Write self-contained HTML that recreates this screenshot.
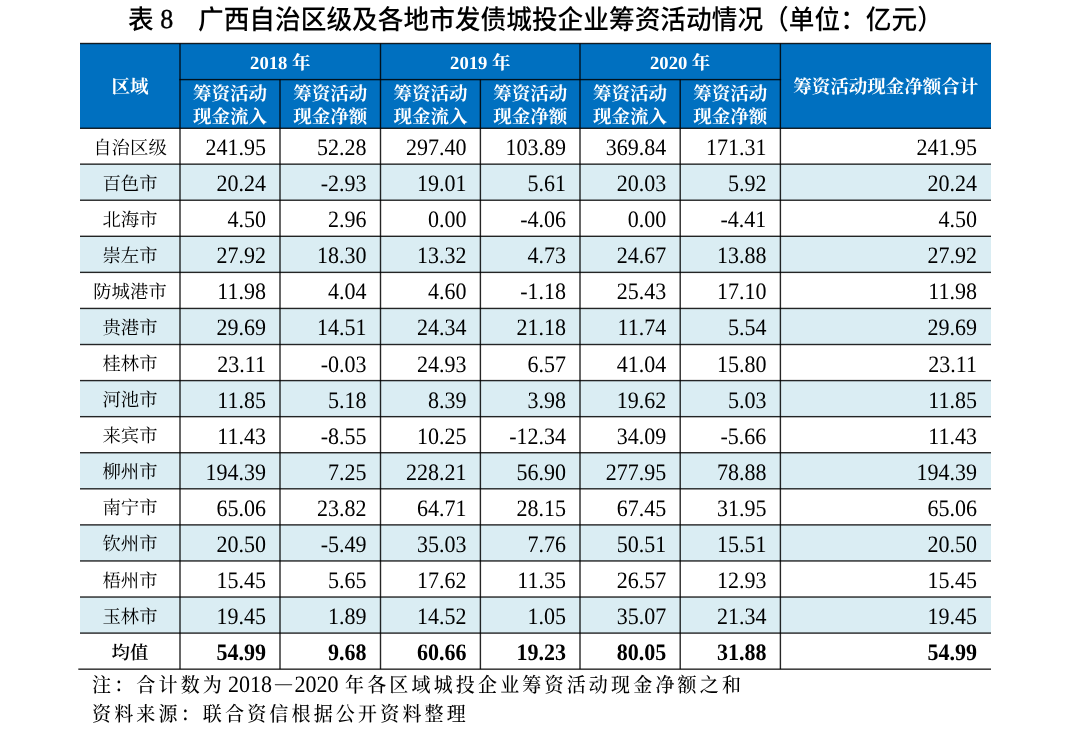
<!DOCTYPE html>
<html><head><meta charset="utf-8"><style>
html,body{text-rendering:geometricPrecision;margin:0;padding:0;background:#fff;width:1080px;height:730px;overflow:hidden;position:relative}
div{position:absolute;box-sizing:border-box}
.title{top:2px;transform:scaleY(1.05);transform-origin:0 0;height:36px;line-height:36px;font-family:"Liberation Sans","Noto Sans CJK SC",sans-serif;font-size:25.7px;font-weight:500;color:#000;white-space:nowrap}
.title .s{font-family:"Liberation Serif","Noto Serif CJK SC",serif}
.th{display:flex;align-items:center;justify-content:center;color:#fff;font-family:"Liberation Serif","Noto Serif CJK SC",serif;font-weight:700;font-size:18.5px;white-space:nowrap}
.th2{display:flex;align-items:center;justify-content:center;text-align:center;color:#fff;font-family:"Liberation Serif","Noto Serif CJK SC",serif;font-weight:700;font-size:18.5px;line-height:23.3px;white-space:nowrap}
.tn{font-family:"Liberation Serif",serif;font-size:18.6px}
.rn{display:flex;align-items:center;justify-content:center;font-family:"Liberation Serif","Noto Serif CJK SC",serif;font-size:18.4px;color:#000;padding-top:1px}
.num{display:flex;align-items:center;justify-content:flex-end;font-family:"Liberation Serif",serif;font-size:22px;color:#000;padding-top:1.8px;transform:scaleY(1.07)}
.b{font-weight:600}
.note{font-family:"Noto Serif CJK SC",serif;font-size:19px;line-height:24px;color:#000;white-space:nowrap;letter-spacing:3.17px;font-weight:500;transform:scaleY(1.07);transform-origin:0 50%}
.nn{font-family:"Liberation Serif",serif;font-size:22px;line-height:24px;color:#000;white-space:nowrap;transform:scaleY(1.07)}
#wrap{left:0;top:0;width:1080px;height:730px;will-change:transform}
</style></head><body><div id="wrap">
<svg width="1080" height="730" viewBox="0 0 1080 730" style="position:absolute;left:0;top:0"><rect x="80" y="43.5" width="911" height="84.80" fill="#0070C0"/><rect x="80" y="164.15" width="911" height="36.07" fill="#DAEDF3"/><rect x="80" y="236.30" width="911" height="36.07" fill="#DAEDF3"/><rect x="80" y="308.44" width="911" height="36.07" fill="#DAEDF3"/><rect x="80" y="380.59" width="911" height="36.07" fill="#DAEDF3"/><rect x="80" y="452.73" width="911" height="36.07" fill="#DAEDF3"/><rect x="80" y="524.88" width="911" height="36.07" fill="#DAEDF3"/><rect x="80" y="597.03" width="911" height="36.07" fill="#DAEDF3"/><rect x="80" y="42.80" width="911.00" height="1.4" fill-opacity="0.85"/><rect x="179.3" y="78.90" width="601.80" height="1.4" fill-opacity="0.85"/><rect x="80" y="127.60" width="911.00" height="1.4" fill-opacity="0.85"/><rect x="80" y="163.45" width="911.00" height="1.4" fill-opacity="0.85"/><rect x="80" y="199.52" width="911.00" height="1.4" fill-opacity="0.85"/><rect x="80" y="235.60" width="911.00" height="1.4" fill-opacity="0.85"/><rect x="80" y="271.67" width="911.00" height="1.4" fill-opacity="0.85"/><rect x="80" y="307.74" width="911.00" height="1.4" fill-opacity="0.85"/><rect x="80" y="343.81" width="911.00" height="1.4" fill-opacity="0.85"/><rect x="80" y="379.89" width="911.00" height="1.4" fill-opacity="0.85"/><rect x="80" y="415.96" width="911.00" height="1.4" fill-opacity="0.85"/><rect x="80" y="452.03" width="911.00" height="1.4" fill-opacity="0.85"/><rect x="80" y="488.11" width="911.00" height="1.4" fill-opacity="0.85"/><rect x="80" y="524.18" width="911.00" height="1.4" fill-opacity="0.85"/><rect x="80" y="560.25" width="911.00" height="1.4" fill-opacity="0.85"/><rect x="80" y="596.33" width="911.00" height="1.4" fill-opacity="0.85"/><rect x="80" y="632.40" width="911.00" height="1.4" fill-opacity="0.85"/><rect x="78.3" y="668.47" width="912.70" height="1.4" fill-opacity="0.85"/><rect x="179.30" y="43.50" width="1.4" height="625.67" fill-opacity="0.85"/><rect x="379.80" y="43.50" width="1.4" height="625.67" fill-opacity="0.85"/><rect x="579.30" y="43.50" width="1.4" height="625.67" fill-opacity="0.85"/><rect x="779.70" y="43.50" width="1.4" height="625.67" fill-opacity="0.85"/><rect x="279.30" y="79.60" width="1.4" height="589.57" fill-opacity="0.85"/><rect x="479.70" y="79.60" width="1.4" height="589.57" fill-opacity="0.85"/><rect x="679.50" y="79.60" width="1.4" height="589.57" fill-opacity="0.85"/></svg>
<div class="th" style="left:80px;top:43px;width:100px;height:85.3px">区域</div>
<div class="th" style="left:180px;top:44px;width:200.5px;height:36.6px"><span><span class="tn">2018</span> 年</span></div>
<div class="th2" style="left:180px;top:82.6px;width:100px;height:48.7px">筹资活动<br>现金流入</div>
<div class="th2" style="left:280px;top:82.6px;width:100.5px;height:48.7px">筹资活动<br>现金净额</div>
<div class="th" style="left:380.5px;top:44px;width:199.5px;height:36.6px"><span><span class="tn">2019</span> 年</span></div>
<div class="th2" style="left:380.5px;top:82.6px;width:99.89999999999998px;height:48.7px">筹资活动<br>现金流入</div>
<div class="th2" style="left:480.4px;top:82.6px;width:99.60000000000002px;height:48.7px">筹资活动<br>现金净额</div>
<div class="th" style="left:580px;top:44px;width:200.39999999999998px;height:36.6px"><span><span class="tn">2020</span> 年</span></div>
<div class="th2" style="left:580px;top:82.6px;width:100.20000000000005px;height:48.7px">筹资活动<br>现金流入</div>
<div class="th2" style="left:680.2px;top:82.6px;width:100.19999999999993px;height:48.7px">筹资活动<br>现金净额</div>
<div class="th" style="left:780.4px;top:43px;width:210.60000000000002px;height:85.3px">筹资活动现金净额合计</div>
<div class="rn" style="left:80px;top:128.3px;width:100px;height:35.8px">自治区级</div>
<div class="num" style="left:180px;top:128.3px;width:86px;height:35.8px">241.95</div>
<div class="num" style="left:280px;top:128.3px;width:86.5px;height:35.8px">52.28</div>
<div class="num" style="left:380.5px;top:128.3px;width:85.89999999999998px;height:35.8px">297.40</div>
<div class="num" style="left:480.4px;top:128.3px;width:85.60000000000002px;height:35.8px">103.89</div>
<div class="num" style="left:580px;top:128.3px;width:86.20000000000005px;height:35.8px">369.84</div>
<div class="num" style="left:680.2px;top:128.3px;width:86.19999999999993px;height:35.8px">171.31</div>
<div class="num" style="left:780.4px;top:128.3px;width:196.60000000000002px;height:35.8px">241.95</div>
<div class="rn" style="left:80px;top:164.2px;width:100px;height:36.1px">百色市</div>
<div class="num" style="left:180px;top:164.2px;width:86px;height:36.1px">20.24</div>
<div class="num" style="left:280px;top:164.2px;width:86.5px;height:36.1px">-2.93</div>
<div class="num" style="left:380.5px;top:164.2px;width:85.89999999999998px;height:36.1px">19.01</div>
<div class="num" style="left:480.4px;top:164.2px;width:85.60000000000002px;height:36.1px">5.61</div>
<div class="num" style="left:580px;top:164.2px;width:86.20000000000005px;height:36.1px">20.03</div>
<div class="num" style="left:680.2px;top:164.2px;width:86.19999999999993px;height:36.1px">5.92</div>
<div class="num" style="left:780.4px;top:164.2px;width:196.60000000000002px;height:36.1px">20.24</div>
<div class="rn" style="left:80px;top:200.2px;width:100px;height:36.1px">北海市</div>
<div class="num" style="left:180px;top:200.2px;width:86px;height:36.1px">4.50</div>
<div class="num" style="left:280px;top:200.2px;width:86.5px;height:36.1px">2.96</div>
<div class="num" style="left:380.5px;top:200.2px;width:85.89999999999998px;height:36.1px">0.00</div>
<div class="num" style="left:480.4px;top:200.2px;width:85.60000000000002px;height:36.1px">-4.06</div>
<div class="num" style="left:580px;top:200.2px;width:86.20000000000005px;height:36.1px">0.00</div>
<div class="num" style="left:680.2px;top:200.2px;width:86.19999999999993px;height:36.1px">-4.41</div>
<div class="num" style="left:780.4px;top:200.2px;width:196.60000000000002px;height:36.1px">4.50</div>
<div class="rn" style="left:80px;top:236.3px;width:100px;height:36.1px">崇左市</div>
<div class="num" style="left:180px;top:236.3px;width:86px;height:36.1px">27.92</div>
<div class="num" style="left:280px;top:236.3px;width:86.5px;height:36.1px">18.30</div>
<div class="num" style="left:380.5px;top:236.3px;width:85.89999999999998px;height:36.1px">13.32</div>
<div class="num" style="left:480.4px;top:236.3px;width:85.60000000000002px;height:36.1px">4.73</div>
<div class="num" style="left:580px;top:236.3px;width:86.20000000000005px;height:36.1px">24.67</div>
<div class="num" style="left:680.2px;top:236.3px;width:86.19999999999993px;height:36.1px">13.88</div>
<div class="num" style="left:780.4px;top:236.3px;width:196.60000000000002px;height:36.1px">27.92</div>
<div class="rn" style="left:80px;top:272.4px;width:100px;height:36.1px">防城港市</div>
<div class="num" style="left:180px;top:272.4px;width:86px;height:36.1px">11.98</div>
<div class="num" style="left:280px;top:272.4px;width:86.5px;height:36.1px">4.04</div>
<div class="num" style="left:380.5px;top:272.4px;width:85.89999999999998px;height:36.1px">4.60</div>
<div class="num" style="left:480.4px;top:272.4px;width:85.60000000000002px;height:36.1px">-1.18</div>
<div class="num" style="left:580px;top:272.4px;width:86.20000000000005px;height:36.1px">25.43</div>
<div class="num" style="left:680.2px;top:272.4px;width:86.19999999999993px;height:36.1px">17.10</div>
<div class="num" style="left:780.4px;top:272.4px;width:196.60000000000002px;height:36.1px">11.98</div>
<div class="rn" style="left:80px;top:308.4px;width:100px;height:36.1px">贵港市</div>
<div class="num" style="left:180px;top:308.4px;width:86px;height:36.1px">29.69</div>
<div class="num" style="left:280px;top:308.4px;width:86.5px;height:36.1px">14.51</div>
<div class="num" style="left:380.5px;top:308.4px;width:85.89999999999998px;height:36.1px">24.34</div>
<div class="num" style="left:480.4px;top:308.4px;width:85.60000000000002px;height:36.1px">21.18</div>
<div class="num" style="left:580px;top:308.4px;width:86.20000000000005px;height:36.1px">11.74</div>
<div class="num" style="left:680.2px;top:308.4px;width:86.19999999999993px;height:36.1px">5.54</div>
<div class="num" style="left:780.4px;top:308.4px;width:196.60000000000002px;height:36.1px">29.69</div>
<div class="rn" style="left:80px;top:344.5px;width:100px;height:36.1px">桂林市</div>
<div class="num" style="left:180px;top:344.5px;width:86px;height:36.1px">23.11</div>
<div class="num" style="left:280px;top:344.5px;width:86.5px;height:36.1px">-0.03</div>
<div class="num" style="left:380.5px;top:344.5px;width:85.89999999999998px;height:36.1px">24.93</div>
<div class="num" style="left:480.4px;top:344.5px;width:85.60000000000002px;height:36.1px">6.57</div>
<div class="num" style="left:580px;top:344.5px;width:86.20000000000005px;height:36.1px">41.04</div>
<div class="num" style="left:680.2px;top:344.5px;width:86.19999999999993px;height:36.1px">15.80</div>
<div class="num" style="left:780.4px;top:344.5px;width:196.60000000000002px;height:36.1px">23.11</div>
<div class="rn" style="left:80px;top:380.6px;width:100px;height:36.1px">河池市</div>
<div class="num" style="left:180px;top:380.6px;width:86px;height:36.1px">11.85</div>
<div class="num" style="left:280px;top:380.6px;width:86.5px;height:36.1px">5.18</div>
<div class="num" style="left:380.5px;top:380.6px;width:85.89999999999998px;height:36.1px">8.39</div>
<div class="num" style="left:480.4px;top:380.6px;width:85.60000000000002px;height:36.1px">3.98</div>
<div class="num" style="left:580px;top:380.6px;width:86.20000000000005px;height:36.1px">19.62</div>
<div class="num" style="left:680.2px;top:380.6px;width:86.19999999999993px;height:36.1px">5.03</div>
<div class="num" style="left:780.4px;top:380.6px;width:196.60000000000002px;height:36.1px">11.85</div>
<div class="rn" style="left:80px;top:416.7px;width:100px;height:36.1px">来宾市</div>
<div class="num" style="left:180px;top:416.7px;width:86px;height:36.1px">11.43</div>
<div class="num" style="left:280px;top:416.7px;width:86.5px;height:36.1px">-8.55</div>
<div class="num" style="left:380.5px;top:416.7px;width:85.89999999999998px;height:36.1px">10.25</div>
<div class="num" style="left:480.4px;top:416.7px;width:85.60000000000002px;height:36.1px">-12.34</div>
<div class="num" style="left:580px;top:416.7px;width:86.20000000000005px;height:36.1px">34.09</div>
<div class="num" style="left:680.2px;top:416.7px;width:86.19999999999993px;height:36.1px">-5.66</div>
<div class="num" style="left:780.4px;top:416.7px;width:196.60000000000002px;height:36.1px">11.43</div>
<div class="rn" style="left:80px;top:452.7px;width:100px;height:36.1px">柳州市</div>
<div class="num" style="left:180px;top:452.7px;width:86px;height:36.1px">194.39</div>
<div class="num" style="left:280px;top:452.7px;width:86.5px;height:36.1px">7.25</div>
<div class="num" style="left:380.5px;top:452.7px;width:85.89999999999998px;height:36.1px">228.21</div>
<div class="num" style="left:480.4px;top:452.7px;width:85.60000000000002px;height:36.1px">56.90</div>
<div class="num" style="left:580px;top:452.7px;width:86.20000000000005px;height:36.1px">277.95</div>
<div class="num" style="left:680.2px;top:452.7px;width:86.19999999999993px;height:36.1px">78.88</div>
<div class="num" style="left:780.4px;top:452.7px;width:196.60000000000002px;height:36.1px">194.39</div>
<div class="rn" style="left:80px;top:488.8px;width:100px;height:36.1px">南宁市</div>
<div class="num" style="left:180px;top:488.8px;width:86px;height:36.1px">65.06</div>
<div class="num" style="left:280px;top:488.8px;width:86.5px;height:36.1px">23.82</div>
<div class="num" style="left:380.5px;top:488.8px;width:85.89999999999998px;height:36.1px">64.71</div>
<div class="num" style="left:480.4px;top:488.8px;width:85.60000000000002px;height:36.1px">28.15</div>
<div class="num" style="left:580px;top:488.8px;width:86.20000000000005px;height:36.1px">67.45</div>
<div class="num" style="left:680.2px;top:488.8px;width:86.19999999999993px;height:36.1px">31.95</div>
<div class="num" style="left:780.4px;top:488.8px;width:196.60000000000002px;height:36.1px">65.06</div>
<div class="rn" style="left:80px;top:524.9px;width:100px;height:36.1px">钦州市</div>
<div class="num" style="left:180px;top:524.9px;width:86px;height:36.1px">20.50</div>
<div class="num" style="left:280px;top:524.9px;width:86.5px;height:36.1px">-5.49</div>
<div class="num" style="left:380.5px;top:524.9px;width:85.89999999999998px;height:36.1px">35.03</div>
<div class="num" style="left:480.4px;top:524.9px;width:85.60000000000002px;height:36.1px">7.76</div>
<div class="num" style="left:580px;top:524.9px;width:86.20000000000005px;height:36.1px">50.51</div>
<div class="num" style="left:680.2px;top:524.9px;width:86.19999999999993px;height:36.1px">15.51</div>
<div class="num" style="left:780.4px;top:524.9px;width:196.60000000000002px;height:36.1px">20.50</div>
<div class="rn" style="left:80px;top:561.0px;width:100px;height:36.1px">梧州市</div>
<div class="num" style="left:180px;top:561.0px;width:86px;height:36.1px">15.45</div>
<div class="num" style="left:280px;top:561.0px;width:86.5px;height:36.1px">5.65</div>
<div class="num" style="left:380.5px;top:561.0px;width:85.89999999999998px;height:36.1px">17.62</div>
<div class="num" style="left:480.4px;top:561.0px;width:85.60000000000002px;height:36.1px">11.35</div>
<div class="num" style="left:580px;top:561.0px;width:86.20000000000005px;height:36.1px">26.57</div>
<div class="num" style="left:680.2px;top:561.0px;width:86.19999999999993px;height:36.1px">12.93</div>
<div class="num" style="left:780.4px;top:561.0px;width:196.60000000000002px;height:36.1px">15.45</div>
<div class="rn" style="left:80px;top:597.0px;width:100px;height:36.1px">玉林市</div>
<div class="num" style="left:180px;top:597.0px;width:86px;height:36.1px">19.45</div>
<div class="num" style="left:280px;top:597.0px;width:86.5px;height:36.1px">1.89</div>
<div class="num" style="left:380.5px;top:597.0px;width:85.89999999999998px;height:36.1px">14.52</div>
<div class="num" style="left:480.4px;top:597.0px;width:85.60000000000002px;height:36.1px">1.05</div>
<div class="num" style="left:580px;top:597.0px;width:86.20000000000005px;height:36.1px">35.07</div>
<div class="num" style="left:680.2px;top:597.0px;width:86.19999999999993px;height:36.1px">21.34</div>
<div class="num" style="left:780.4px;top:597.0px;width:196.60000000000002px;height:36.1px">19.45</div>
<div class="rn b" style="left:80px;top:633.1px;width:100px;height:36.1px">均值</div>
<div class="num b" style="left:180px;top:633.1px;width:86px;height:36.1px">54.99</div>
<div class="num b" style="left:280px;top:633.1px;width:86.5px;height:36.1px">9.68</div>
<div class="num b" style="left:380.5px;top:633.1px;width:85.89999999999998px;height:36.1px">60.66</div>
<div class="num b" style="left:480.4px;top:633.1px;width:85.60000000000002px;height:36.1px">19.23</div>
<div class="num b" style="left:580px;top:633.1px;width:86.20000000000005px;height:36.1px">80.05</div>
<div class="num b" style="left:680.2px;top:633.1px;width:86.19999999999993px;height:36.1px">31.88</div>
<div class="num b" style="left:780.4px;top:633.1px;width:196.60000000000002px;height:36.1px">54.99</div>
<div class="title" style="left:128px">表</div>
<div class="title" style="left:160.3px;top:0.5px;font-family:'Liberation Serif',serif;font-size:26px;-webkit-text-stroke:0.35px #000">8</div>
<div class="title" style="left:198px">广西自治区级及各地市发债城投企业筹资活动情况（单位：亿元）</div>
<div class="note" style="left:92px;top:673px">注：合计数为</div>
<div class="nn" style="left:228px;top:673px">2018</div>
<div class="nn" style="left:275px;top:671.9px;font-size:17px">—</div>
<div class="nn" style="left:294.5px;top:673px">2020</div>
<div class="note" style="left:345px;top:673px">年各区域城投企业筹资活动现金净额之和</div>
<div class="note" style="left:92px;top:702px">资料来源：联合资信根据公开资料整理</div>
</div></body></html>
